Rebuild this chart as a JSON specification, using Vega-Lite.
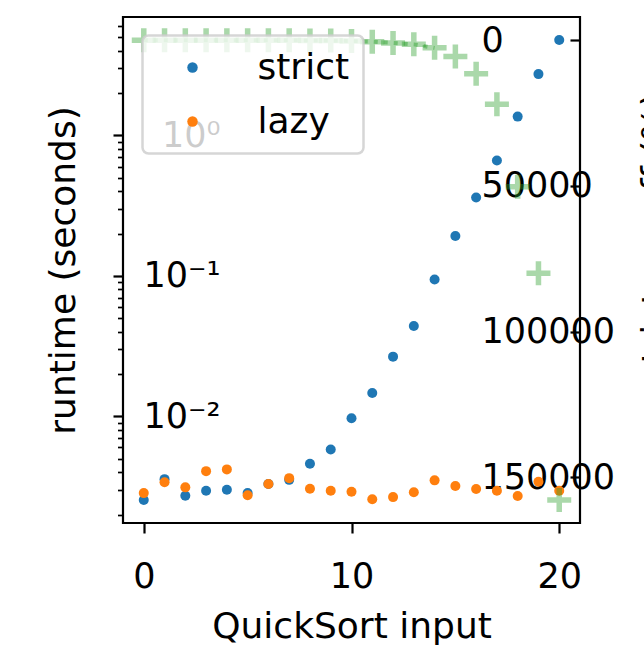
{
  "$schema": "https://vega.github.io/schema/vega-lite/v6.json",
  "width": 457,
  "height": 506,
  "autosize": {"type": "none"},
  "padding": {"left": 123, "top": 17, "right": 64, "bottom": 122},
  "config": {
    "font": "DejaVu Sans",
    "view": {"stroke": "black", "strokeWidth": 2.2},
    "axis": {"grid": false, "domain": false, "tickColor": "black", "labelColor": "black", "titleColor": "black", "titleFontWeight": "normal"},
    "legend": {"strokeWidth": 2.5}
  },
  "datasets": {
    "runtime": [
      {"n": 0, "series": "strict", "runtime": 0.00254},
      {"n": 1, "series": "strict", "runtime": 0.00357},
      {"n": 2, "series": "strict", "runtime": 0.00272},
      {"n": 3, "series": "strict", "runtime": 0.00295},
      {"n": 4, "series": "strict", "runtime": 0.00300},
      {"n": 5, "series": "strict", "runtime": 0.00284},
      {"n": 6, "series": "strict", "runtime": 0.00330},
      {"n": 7, "series": "strict", "runtime": 0.00353},
      {"n": 8, "series": "strict", "runtime": 0.00459},
      {"n": 9, "series": "strict", "runtime": 0.00581},
      {"n": 10, "series": "strict", "runtime": 0.0097},
      {"n": 11, "series": "strict", "runtime": 0.01467},
      {"n": 12, "series": "strict", "runtime": 0.0266},
      {"n": 13, "series": "strict", "runtime": 0.0439},
      {"n": 14, "series": "strict", "runtime": 0.0942},
      {"n": 15, "series": "strict", "runtime": 0.1923},
      {"n": 16, "series": "strict", "runtime": 0.3615},
      {"n": 17, "series": "strict", "runtime": 0.662},
      {"n": 18, "series": "strict", "runtime": 1.36},
      {"n": 19, "series": "strict", "runtime": 2.73},
      {"n": 20, "series": "strict", "runtime": 4.77},
      {"n": 0, "series": "lazy", "runtime": 0.00284},
      {"n": 1, "series": "lazy", "runtime": 0.00339},
      {"n": 2, "series": "lazy", "runtime": 0.00312},
      {"n": 3, "series": "lazy", "runtime": 0.00407},
      {"n": 4, "series": "lazy", "runtime": 0.00419},
      {"n": 5, "series": "lazy", "runtime": 0.00274},
      {"n": 6, "series": "lazy", "runtime": 0.00330},
      {"n": 7, "series": "lazy", "runtime": 0.00363},
      {"n": 8, "series": "lazy", "runtime": 0.00305},
      {"n": 9, "series": "lazy", "runtime": 0.00295},
      {"n": 10, "series": "lazy", "runtime": 0.00290},
      {"n": 11, "series": "lazy", "runtime": 0.00257},
      {"n": 12, "series": "lazy", "runtime": 0.00266},
      {"n": 13, "series": "lazy", "runtime": 0.00288},
      {"n": 14, "series": "lazy", "runtime": 0.00350},
      {"n": 15, "series": "lazy", "runtime": 0.00319},
      {"n": 16, "series": "lazy", "runtime": 0.00304},
      {"n": 17, "series": "lazy", "runtime": 0.00295},
      {"n": 18, "series": "lazy", "runtime": 0.00271},
      {"n": 19, "series": "lazy", "runtime": 0.00342},
      {"n": 20, "series": "lazy", "runtime": 0.00295}
    ],
    "effect": [
      {"n": 0, "pct": -10},
      {"n": 1, "pct": 5},
      {"n": 2, "pct": -13},
      {"n": 3, "pct": -27},
      {"n": 4, "pct": -28},
      {"n": 5, "pct": 4},
      {"n": 6, "pct": 0},
      {"n": 7, "pct": -3},
      {"n": 8, "pct": 50},
      {"n": 9, "pct": 100},
      {"n": 10, "pct": 230},
      {"n": 11, "pct": 470},
      {"n": 12, "pct": 900},
      {"n": 13, "pct": 1400},
      {"n": 14, "pct": 2600},
      {"n": 15, "pct": 5600},
      {"n": 16, "pct": 11500},
      {"n": 17, "pct": 22000},
      {"n": 18, "pct": 50300},
      {"n": 19, "pct": 80000},
      {"n": 20, "pct": 157900}
    ]
  },
  "encoding": {
    "x": {
      "field": "n",
      "type": "quantitative",
      "scale": {"domain": [-1, 21], "nice": false, "zero": false},
      "axis": {
        "values": [0, 10, 20],
        "title": "QuickSort input",
        "tickSize": 10,
        "tickWidth": 2.2,
        "labelFontSize": 35,
        "labelPadding": 26,
        "labelFlush": false,
        "titleFontSize": 36,
        "titleY": 114,
        "titleBaseline": "alphabetic"
      }
    }
  },
  "layer": [
    {
      "data": {"name": "runtime"},
      "mark": {"type": "point", "filled": true, "size": 100, "opacity": 1},
      "encoding": {
        "y": {
          "field": "runtime",
          "type": "quantitative",
          "scale": {"type": "log", "domain": [0.00174, 6.96], "nice": false},
          "axis": {
            "orient": "left",
            "title": "runtime (seconds)",
            "values": [0.002, 0.003, 0.004, 0.005, 0.006, 0.007, 0.008, 0.009, 0.01, 0.02, 0.03, 0.04, 0.05, 0.06, 0.07, 0.08, 0.09, 0.1, 0.2, 0.3, 0.4, 0.5, 0.6, 0.7, 0.8, 0.9, 1, 2, 3, 4, 5, 6],
            "labelExpr": "datum.value == 1 ? '10⁰' : datum.value == 0.1 ? '10⁻¹' : datum.value == 0.01 ? '10⁻²' : ''",
            "tickSize": {"condition": {"test": "datum.value == 1 || datum.value == 0.1 || datum.value == 0.01", "value": 10}, "value": 5.5},
            "tickWidth": {"condition": {"test": "datum.value == 1 || datum.value == 0.1 || datum.value == 0.01", "value": 2.2}, "value": 1.7},
            "labelAlign": "right",
            "labelBaseline": "middle",
            "labelPadding": -107,
            "labelFontSize": 35,
            "labelOverlap": false,
            "labelFlush": false,
            "labelBound": false,
            "titleFontSize": 36,
            "titleX": -60,
            "titleY": 253,
            "titleAngle": 270,
            "titleAlign": "center",
            "titleBaseline": "middle"
          }
        },
        "color": {
          "field": "series",
          "type": "nominal",
          "scale": {"domain": ["strict", "lazy"], "range": ["#1f77b4", "#ff7f0e"]},
          "legend": {
            "orient": "none",
            "legendX": 19.5,
            "legendY": 18.5,
            "title": null,
            "padding": 14,
            "symbolOffset": 18,
            "labelOffset": 47,
            "rowPadding": 18,
            "labelFontSize": 36,
            "labelBaseline": "middle",
            "labelLimit": 400,
            "symbolSize": 110,
            "symbolType": "circle",
            "symbolStrokeWidth": 0,
            "fillColor": "rgba(255,255,255,0.8)",
            "strokeColor": "rgba(204,204,204,0.8)",
            "cornerRadius": 6,
            "labelColor": "black"
          }
        }
      }
    },
    {
      "data": {"name": "effect"},
      "encoding": {
        "y": {
          "field": "pct",
          "type": "quantitative",
          "scale": {"domain": [-8000, 165760], "reverse": true, "nice": false, "zero": false},
          "axis": {
            "orient": "right",
            "offset": -10,
            "values": [0, 50000, 100000, 150000],
            "format": "d",
            "title": "strict payoff (%)",
            "tickSize": 10,
            "tickWidth": 2.2,
            "labelAlign": "left",
            "labelBaseline": "middle",
            "labelPadding": -99,
            "labelFontSize": 35,
            "labelOverlap": false,
            "labelFlush": false,
            "labelBound": false,
            "titleFontSize": 36,
            "titleX": 68,
            "titleY": 75,
            "titleAngle": 270,
            "titleAlign": "right",
            "titleBaseline": "top"
          }
        }
      },
      "layer": [
        {
          "transform": [{"filter": "datum.n <= 14"}],
          "mark": {"type": "line", "color": "#2ca02c", "strokeWidth": 4, "strokeDash": [4, 6], "opacity": 0.45}
        },
        {
          "mark": {"type": "point", "shape": "M-1,0L1,0M0,-1L0,1", "filled": false, "size": 576, "strokeWidth": 5.5, "color": "#2ca02c", "opacity": 0.4}
        }
      ]
    }
  ],
  "resolve": {"scale": {"y": "independent"}}
}
